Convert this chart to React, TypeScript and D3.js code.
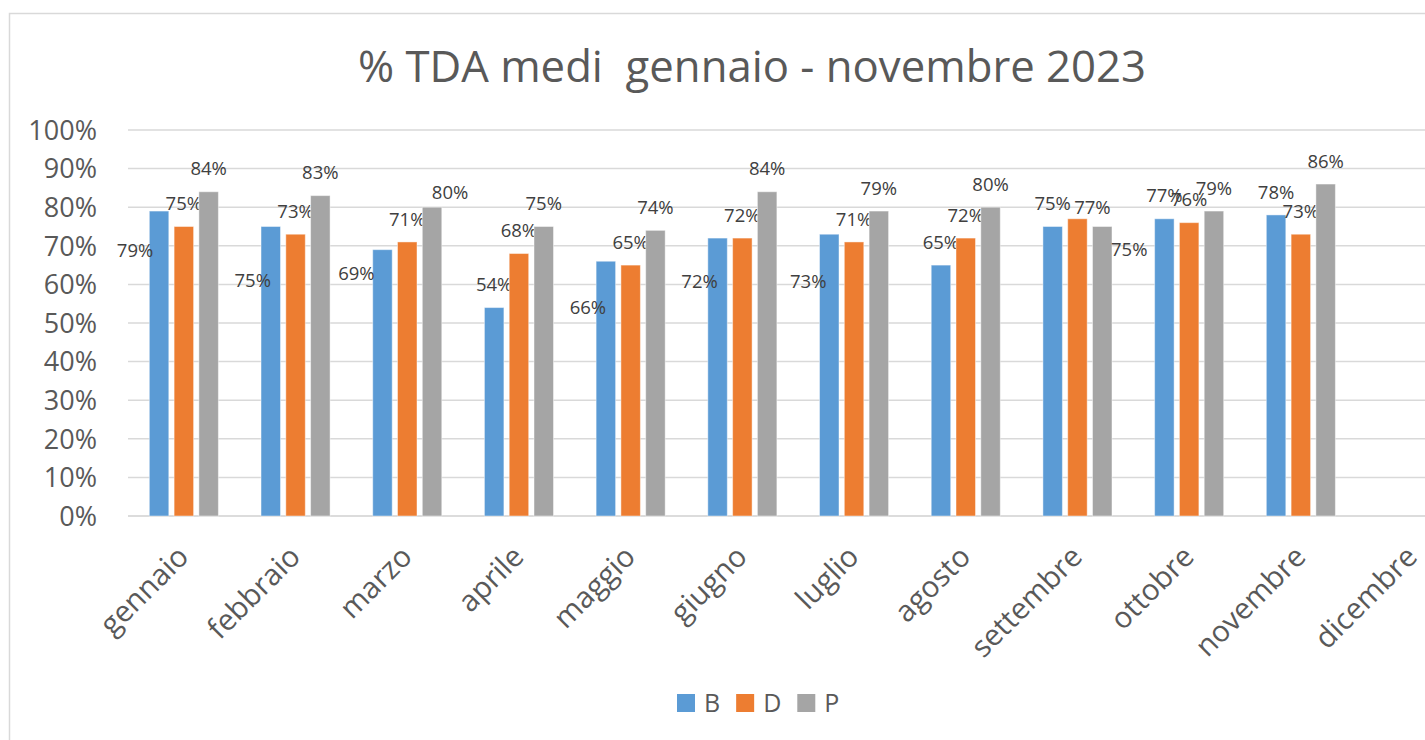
import React, { useEffect, useRef } from 'react';
import * as d3 from 'd3';

const months = [
  'gennaio', 'febbraio', 'marzo', 'aprile', 'maggio', 'giugno',
  'luglio', 'agosto', 'settembre', 'ottobre', 'novembre', 'dicembre'
];
const seriesNames = ['B', 'D', 'P'];
const valuesB = [0.79, 0.75, 0.69, 0.54, 0.66, 0.72, 0.73, 0.65, 0.75, 0.77, 0.78, null];
const valuesD = [0.75, 0.73, 0.71, 0.68, 0.65, 0.72, 0.71, 0.72, 0.77, 0.76, 0.73, null];
const valuesP = [0.84, 0.83, 0.80, 0.75, 0.74, 0.84, 0.79, 0.80, 0.75, 0.79, 0.86, null];
const yTicks = [0, 0.1, 0.2, 0.3, 0.4, 0.5, 0.6, 0.7, 0.8, 0.9, 1];

// label placement in the original was dragged by hand: [dx, dy] from bar top centre
const nudgeB = [[-24, 39], [-18, 54], [-26, 24], [0, -23], [-18, 46], [-18, 43], [-21, 47], [0, -23], [0, -23], [0, -23], [0, -23]];
const nudgeD = [[0, -23], [0, -23], [0, -23], [0, -23], [0, -23], [0, -23], [0, -23], [0, -23], [15, -11], [0, -23], [0, -23]];
const nudgeP = [[0, -23], [0, -23], [18, -15], [0, -23], [0, -23], [0, -23], [0, -23], [0, -23], [27, 23], [0, -23], [0, -23]];

const colors: Record<string, string> = { B: '#5B9BD5', D: '#ED7D31', P: '#A5A5A5' };

export default function App() {
  const svgRef = useRef<SVGSVGElement>(null);

  useEffect(() => {
    document.body.style.margin = '0';
    if (!svgRef.current) return;
    const svg = d3.select(svgRef.current);
    svg.selectAll('*').remove();

    const font = "'Open Sans', sans-serif";
    const plot = { left: 128, top: 130, bottom: 516, right: 128 + 12 * 111.7 };

    // chart frame
    svg.append('rect')
      .attr('x', 9.5).attr('y', 13.5)
      .attr('width', 1600).attr('height', 800)
      .attr('fill', '#fff').attr('stroke', '#D9D9D9').attr('stroke-width', 1.5);

    svg.append('text')
      .attr('x', 752).attr('y', 82)
      .attr('text-anchor', 'middle')
      .attr('font-family', font).attr('font-size', 43.7)
      .attr('fill', '#595959')
      .style('white-space', 'pre')
      .text('% TDA medi  gennaio - novembre 2023');

    const y = d3.scaleLinear().domain([0, 1]).range([plot.bottom, plot.top]);
    const x0 = d3.scaleBand<string>().domain(months).range([plot.left, plot.right]);
    const x1 = d3.scaleBand<string>().domain(seriesNames)
      .range([0, x0.bandwidth()]).paddingInner(0.214).paddingOuter(0.86);

    // gridlines
    svg.append('g').selectAll('line')
      .data(yTicks)
      .enter()
      .append('line')
      .attr('x1', plot.left).attr('x2', plot.right)
      .attr('y1', d => y(d)).attr('y2', d => y(d))
      .attr('stroke', d => d === 0 ? '#D0D0D0' : '#D9D9D9')
      .attr('stroke-width', 1.5);

    // y axis labels
    svg.append('g').selectAll('text')
      .data(yTicks)
      .enter()
      .append('text')
      .attr('x', 97).attr('y', d => y(d))
      .attr('dy', '0.36em')
      .attr('text-anchor', 'end')
      .attr('font-family', font).attr('font-size', 27)
      .attr('fill', '#595959')
      .text(d => d3.format('.0%')(d));

    const table = [
      { key: 'B', values: valuesB, nudge: nudgeB },
      { key: 'D', values: valuesD, nudge: nudgeD },
      { key: 'P', values: valuesP, nudge: nudgeP }
    ];

    table.forEach(s => {
      const pts = months
        .map((m, i) => ({ m, v: s.values[i], n: s.nudge[i] }))
        .filter(d => d.v != null) as { m: string; v: number; n: number[] }[];

      svg.append('g').selectAll('rect')
        .data(pts)
        .enter()
        .append('rect')
        .attr('x', d => (x0(d.m) as number) + (x1(s.key) as number))
        .attr('y', d => y(d.v))
        .attr('width', x1.bandwidth())
        .attr('height', d => y(0) - y(d.v))
        .attr('fill', colors[s.key])
        .attr('stroke', '#fff').attr('stroke-opacity', 0.45).attr('stroke-width', 1);

      svg.append('g').selectAll('text')
        .data(pts)
        .enter()
        .append('text')
        .attr('x', d => (x0(d.m) as number) + (x1(s.key) as number) + x1.bandwidth() / 2 + d.n[0])
        .attr('y', d => y(d.v) + d.n[1])
        .attr('dy', '0.36em')
        .attr('text-anchor', 'middle')
        .attr('font-family', font).attr('font-size', 18.5)
        .attr('fill', '#404040')
        .text(d => d3.format('.0%')(d.v));
    });

    // category labels, rotated
    svg.append('g').selectAll('text')
      .data(months)
      .enter()
      .append('text')
      .attr('transform', d => `translate(${(x0(d) as number) + x0.bandwidth() / 2 - 1},551) rotate(-45)`)
      .attr('dy', '0.36em')
      .attr('text-anchor', 'end')
      .attr('font-family', font).attr('font-size', 29.5)
      .attr('fill', '#595959')
      .text(d => d);

    // legend
    const legend = svg.append('g');
    let lx = 677;
    seriesNames.forEach(name => {
      legend.append('rect')
        .attr('x', lx).attr('y', 694)
        .attr('width', 18).attr('height', 18)
        .attr('fill', colors[name]);
      const t = legend.append('text')
        .attr('x', lx + 27).attr('y', 703)
        .attr('dy', '0.36em')
        .attr('font-family', font).attr('font-size', 25)
        .attr('fill', '#595959')
        .text(name);
      const w = (t.node() as SVGTextElement).getComputedTextLength();
      lx += 27 + w + 16;
    });
  }, []);

  return <svg ref={svgRef} width={1425} height={740} style={{ display: 'block' }} />;
}
